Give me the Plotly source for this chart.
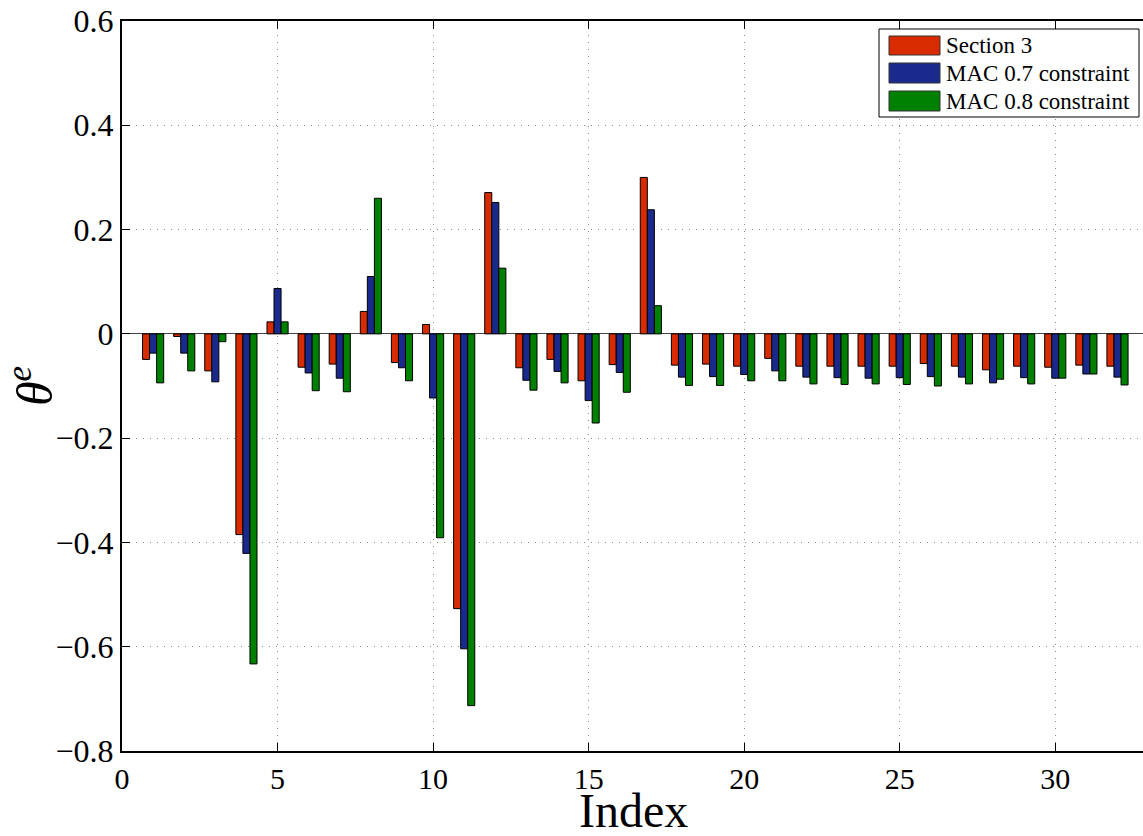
import plotly.graph_objects as go

index = list(range(1, 33))
section3 = [-0.049, -0.005, -0.071, -0.385, 0.023, -0.064, -0.058, 0.043, -0.055, 0.018,
            -0.527, 0.271, -0.065, -0.049, -0.090, -0.059, 0.300, -0.060, -0.058, -0.062,
            -0.047, -0.062, -0.062, -0.062, -0.062, -0.057, -0.062, -0.069, -0.062, -0.064,
            -0.060, -0.062]
mac07 = [-0.037, -0.037, -0.092, -0.421, 0.087, -0.075, -0.085, 0.110, -0.065, -0.123,
         -0.604, 0.252, -0.089, -0.072, -0.128, -0.074, 0.238, -0.083, -0.082, -0.078,
         -0.071, -0.083, -0.084, -0.085, -0.084, -0.082, -0.083, -0.094, -0.084, -0.085,
         -0.077, -0.083]
mac08 = [-0.094, -0.071, -0.015, -0.633, 0.023, -0.109, -0.111, 0.260, -0.090, -0.391,
         -0.713, 0.126, -0.108, -0.094, -0.171, -0.112, 0.054, -0.099, -0.099, -0.090,
         -0.090, -0.096, -0.097, -0.096, -0.097, -0.100, -0.096, -0.087, -0.096, -0.085,
         -0.077, -0.098]

series_names = ["Section 3", "MAC 0.7 constraint", "MAC 0.8 constraint"]
series_colors = ["#D92B00", "#1A2A8C", "#008000"]
x_ticks = [0, 5, 10, 15, 20, 25, 30]
y_ticks = [-0.8, -0.6, -0.4, -0.2, 0, 0.2, 0.4, 0.6]
y_ticktext = ["\u22120.8", "\u22120.6", "\u22120.4", "\u22120.2", "0", "0.2", "0.4", "0.6"]

FONT = "Liberation Serif, Times New Roman, serif"
W, H = 1143, 836
ML, MR, MT, MB = 122, 0, 21, 85
PW, PH = W - ML - MR, H - MT - MB

fig = go.Figure()
for name, vals, col in zip(series_names, [section3, mac07, mac08], series_colors):
    fig.add_trace(go.Bar(x=index, y=vals, name=name, marker_color=col,
                         marker_line_color="black", marker_line_width=1,
                         showlegend=False))

fig.update_layout(
    width=W, height=H,
    margin=dict(l=ML, r=MR, t=MT, b=MB),
    paper_bgcolor="white", plot_bgcolor="white",
    barmode="group", bargap=0.32, bargroupgap=0,
    font=dict(family=FONT, color="black"),
)
GRID = dict(showgrid=True, gridcolor="#8a8a8a", griddash="1px,6px", gridwidth=1)
fig.update_xaxes(
    range=[0, 32.82], tickmode="array", tickvals=x_ticks,
    ticktext=[str(t) for t in x_ticks],
    showline=True, linecolor="black", linewidth=2, mirror="ticks",
    ticks="inside", ticklen=8, tickcolor="black", tickwidth=1,
    zeroline=False, ticklabelstandoff=0,
    tickfont=dict(size=30, family=FONT), **GRID,
)
fig.update_yaxes(
    range=[-0.8, 0.6], tickmode="array", tickvals=y_ticks, ticktext=y_ticktext,
    showline=True, linecolor="black", linewidth=2, mirror=False,
    ticks="inside", ticklen=8, tickcolor="black", tickwidth=1,
    zeroline=True, zerolinecolor="#444444", zerolinewidth=1,
    tickfont=dict(size=32, family=FONT), **GRID,
    title=dict(text="<i>θ</i><sup><i>e</i></sup>", font=dict(size=50, family=FONT), standoff=8),
)

def xp(px):
    return (px - ML) / PW

def yp(py):
    return (H - MB - py) / PH

shapes = [dict(type="rect", xref="paper", yref="paper",
               x0=xp(879), x1=xp(1139), y0=yp(117), y1=yp(29),
               line=dict(color="black", width=1), fillcolor="white", layer="above")]
annotations = [dict(xref="paper", yref="paper", x=xp(633), y=yp(810), text="Index",
                    showarrow=False, xanchor="center", yanchor="middle",
                    font=dict(size=48, family=FONT, color="black"))]
rows = [(36, 55), (63, 83), (91, 111)]
for (top, bot), name, col in zip(rows, series_names, series_colors):
    shapes.append(dict(type="rect", xref="paper", yref="paper",
                       x0=xp(889), x1=xp(940), y0=yp(bot), y1=yp(top),
                       line=dict(color="#333333", width=1), fillcolor=col, layer="above"))
    annotations.append(dict(xref="paper", yref="paper", x=xp(944), y=yp((top + bot) / 2),
                            text=name, showarrow=False, xanchor="left", yanchor="middle",
                            font=dict(size=23, family=FONT, color="black")))
fig.update_layout(shapes=shapes, annotations=annotations)

fig.write_html("out.html")
